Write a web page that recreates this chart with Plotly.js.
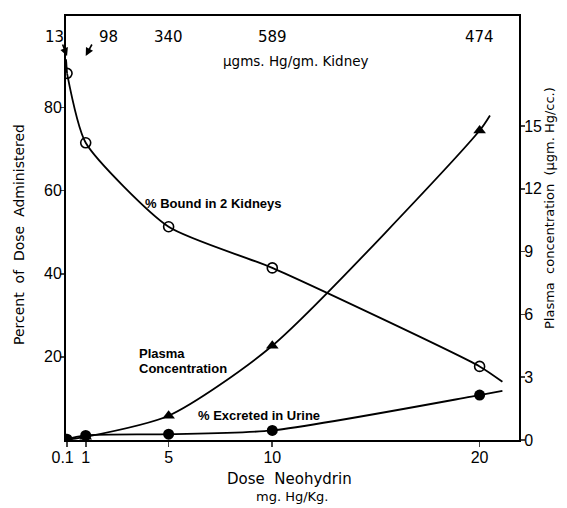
<!DOCTYPE html>
<html>
<head>
<meta charset="utf-8">
<script src="https://cdn.plot.ly/plotly-3.0.1.min.js"></script>
<style>html,body{margin:0;padding:0;background:#fff;}#chart{width:567px;height:508px;}</style>
</head>
<body>
<div id="chart"></div>
<script>
// Doses (mg. Hg/Kg.)
var doses = [0.1, 1, 5, 10, 20];
// % Bound in 2 Kidneys (left axis)
var boundPct = [88.2, 71.5, 51.3, 41.4, 17.7];
// % Excreted in Urine (left axis)
var excretedPct = [0.2, 1.1, 1.4, 2.3, 10.8];
// Plasma concentration (right axis, µgm. Hg/cc.)
var plasmaDoses = [1, 5, 10, 20];
var plasmaConc = [0.15, 1.16, 4.5, 14.78];
// Where the drawn curves start / end beyond the measured points
var boundCurveStart = [0.05, 91.6], boundCurveEnd = [21.1, 14.0];
var excretedCurveStart = [0.05, 0.1], excretedCurveEnd = [21.1, 11.8];
var plasmaCurveStart = [0.1, 0.02], plasmaCurveEnd = [20.5, 15.5];
// Top labels: µgms. Hg/gm. Kidney
var kidneyLabels = ["13", "98", "340", "589", "474"];
var xTickText = ["0.1  ", "1", "5", "10", "20"];
var leftTicks = [20, 40, 60, 80];
var rightTicks = [0, 3, 6, 9, 12, 15];

var F = "DejaVu Sans";
var TF = "Liberation Sans";
var L = 66, R = 48, T = 16, B = 68, W = 567, H = 508;
function px(x){ return (x - L) / (W - L - R); }
function py(y){ return (H - B - y) / (H - T - B); }

function curve(start, xs, ys, end){
  var cx = xs.slice(), cy = ys.slice();
  if (start) { cx.unshift(start[0]); cy.unshift(start[1]); }
  if (end) { cx.push(end[0]); cy.push(end[1]); }
  return {x: cx, y: cy};
}
var bc = curve(null, doses, boundPct, boundCurveEnd);
var ec = curve(excretedCurveStart, doses, excretedPct, excretedCurveEnd);
var pc = curve(plasmaCurveStart, plasmaDoses, plasmaConc, plasmaCurveEnd);

var lineStyle = {color: '#000', width: 1.8, shape: 'spline', smoothing: 0.7};
var traces = [
  {x: [boundCurveStart[0], doses[0]], y: [boundCurveStart[1], boundPct[0]], mode: 'lines', line: {color: '#000', width: 1.8}, hoverinfo: 'skip', showlegend: false},
  {x: bc.x, y: bc.y, mode: 'lines', line: {color: '#000', width: 1.8, shape: 'spline', smoothing: 0.6}, hoverinfo: 'skip', showlegend: false},
  {x: ec.x, y: ec.y, mode: 'lines', line: lineStyle, hoverinfo: 'skip', showlegend: false},
  {x: pc.x, y: pc.y, yaxis: 'y2', mode: 'lines', line: lineStyle, hoverinfo: 'skip', showlegend: false},
  {x: doses, y: boundPct, mode: 'markers', showlegend: false,
   marker: {symbol: 'circle-open', size: 10, color: '#000', line: {width: 1.6, color: '#000'}}},
  {x: doses, y: excretedPct, mode: 'markers', showlegend: false,
   marker: {symbol: 'circle', size: 11, color: '#000'}},
  {x: plasmaDoses, y: plasmaConc, yaxis: 'y2', mode: 'markers', showlegend: false,
   marker: {symbol: 'triangle-up', size: 11, color: '#000'}}
];

var tf = {family: F, size: 15, color: '#000'};
var lf = {family: "Liberation Sans", size: 13, color: '#000', weight: 'bold'};
function A(o){ o.xanchor = o.xanchor || 'center'; o.yanchor = 'middle'; o.showarrow = o.showarrow || false; return o; }
var annotations = [
  // top kidney concentration labels
  A({xref: 'paper', yref: 'paper', x: px(54), y: py(37), text: kidneyLabels[0], font: tf}),
  A({xref: 'paper', yref: 'paper', x: px(108), y: py(37), text: kidneyLabels[1], font: tf}),
  A({xref: 'x', yref: 'paper', x: doses[2], y: py(37), text: kidneyLabels[2], font: tf}),
  A({xref: 'x', yref: 'paper', x: doses[3], y: py(37), text: kidneyLabels[3], font: tf}),
  A({xref: 'x', yref: 'paper', x: doses[4], y: py(37), text: kidneyLabels[4], font: tf}),
  A({xref: 'paper', yref: 'paper', x: px(296), y: py(61), text: 'µgms. Hg/gm. Kidney', font: {family: F, size: 13.5, color: '#000'}}),
  // arrows
  {xref: 'x', yref: 'paper', x: doses[0], y: py(56), text: '', showarrow: true, arrowhead: 2, arrowsize: 1, arrowwidth: 1.6, arrowcolor: '#000', ax: -5, ay: -13},
  {xref: 'x', yref: 'paper', x: doses[1], y: py(56), text: '', showarrow: true, arrowhead: 2, arrowsize: 1, arrowwidth: 1.6, arrowcolor: '#000', ax: 7, ay: -13},
  // curve labels
  A({xref: 'paper', yref: 'paper', x: px(213), y: py(203), text: '% Bound in 2 Kidneys', font: lf}),
  A({xref: 'paper', yref: 'paper', x: px(137), y: py(353), xanchor: 'left', text: 'Plasma', font: lf}),
  A({xref: 'paper', yref: 'paper', x: px(137), y: py(368), xanchor: 'left', text: 'Concentration', font: lf}),
  A({xref: 'paper', yref: 'paper', x: px(196), y: py(415), xanchor: 'left', text: '% Excreted in Urine', font: lf}),
  // axis titles
  A({xref: 'paper', yref: 'paper', x: px(289), y: py(479), text: 'Dose  Neohydrin', font: {family: F, size: 15, color: '#000'}}),
  A({xref: 'paper', yref: 'paper', x: px(292), y: py(496), text: 'mg. Hg/Kg.', font: {family: F, size: 13, color: '#000'}}),
  A({xref: 'paper', yref: 'paper', x: px(19), y: py(235), textangle: -90, text: 'Percent  of  Dose  Administered', font: {family: F, size: 14, color: '#000'}}),
  A({xref: 'paper', yref: 'paper', x: px(549), y: py(208), textangle: -90, text: 'Plasma  concentration  (µgm. Hg/cc.)', font: {family: F, size: 13, color: '#000'}})
];

var axBase = {ticks: 'outside', ticklen: 5, tickwidth: 1.6, tickangle: 0, showline: true, linewidth: 2,
              linecolor: '#000', showgrid: false, zeroline: false, automargin: false,
              tickfont: {family: TF, size: 16, color: '#000'}};
function ax(o){ var r = {}; for (var k in axBase) r[k] = axBase[k]; for (var k2 in o) r[k2] = o[k2]; return r; }

var layout = {
  width: W, height: H,
  margin: {l: L, r: R, t: T, b: B},
  paper_bgcolor: '#fff', plot_bgcolor: '#fff',
  showlegend: false,
  font: {family: F, color: '#000'},
  xaxis: ax({range: [0.05, 21.9], tickvals: doses, ticktext: xTickText, mirror: true, ticklabelstandoff: -3}),
  yaxis: ax({range: [0, 102], tickvals: leftTicks, ticklen: 4, ticklabelstandoff: -5}),
  yaxis2: ax({range: [0, 20.25], overlaying: 'y', side: 'right', tickvals: rightTicks, ticklen: 4, ticklabelstandoff: -4,
              tickfont: {family: TF, size: 16, color: '#000'}}),
  annotations: annotations
};

Plotly.newPlot('chart', traces, layout, {displayModeBar: false, staticPlot: true});
</script>
</body>
</html>
